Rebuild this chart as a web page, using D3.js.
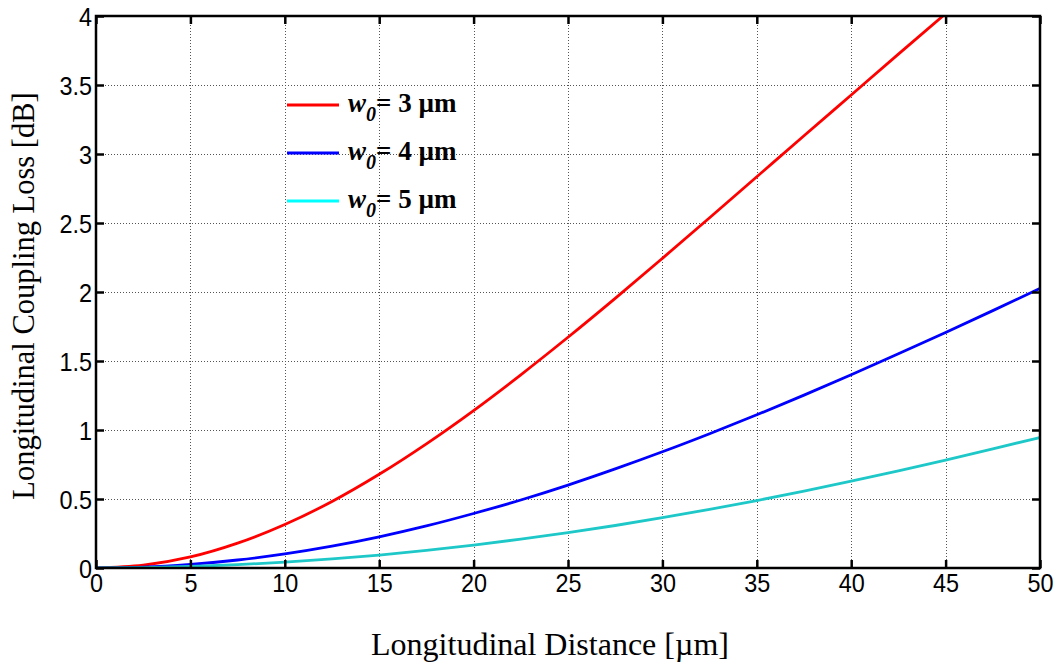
<!DOCTYPE html>
<html>
<head>
<meta charset="utf-8">
<script src="https://cdn.jsdelivr.net/npm/d3@7"></script>
<style>
  html, body { margin: 0; padding: 0; background: #fff; }
  svg { display: block; }
</style>
</head>
<body>
<div id="chart"></div>
<script>
const distance = [0, 2.5, 5, 7.5, 10, 12.5, 15, 17.5, 20, 22.5, 25, 27.5, 30, 32.5, 35, 37.5, 40, 42.5, 45, 47.5, 50];

// loss values [dB]
const lossW3 = [0, 0.02, 0.08, 0.18, 0.315, 0.482, 0.679, 0.9, 1.141, 1.4, 1.672, 1.954, 2.244, 2.538, 2.835, 3.132, 3.428, 3.724, 4.017];
const lossW4 = [0, 0.006, 0.026, 0.058, 0.102, 0.158, 0.226, 0.305, 0.395, 0.493, 0.601, 0.718, 0.842, 0.973, 1.11, 1.253, 1.4, 1.552, 1.707, 1.865, 2.026];
const lossW5 = [0, 0.003, 0.011, 0.024, 0.042, 0.066, 0.094, 0.128, 0.166, 0.209, 0.256, 0.308, 0.365, 0.425, 0.489, 0.557, 0.629, 0.704, 0.782, 0.863, 0.946];

const seriesNames = ["3", "4", "5"];
const lineColors = ["#ff0000", "#0000ff", "#1ec8c8"];
const legendColors = ["#ff0000", "#0000ff", "#00ffff"];

const xTicks = d3.range(0, 51, 5);
const yTicks = d3.range(0, 4.01, 0.5);

const width = 1057;
const height = 665;
const margin = { left: 96, top: 16, right: 17, bottom: 97 };
const plotW = width - margin.left - margin.right;
const plotH = height - margin.top - margin.bottom;

const svg = d3.select("#chart").append("svg").attr("width", width).attr("height", height);

const x = d3.scaleLinear().domain([0, 50]).range([margin.left, margin.left + plotW]);
const y = d3.scaleLinear().domain([0, 4]).range([margin.top + plotH, margin.top]);

svg.append("defs").append("clipPath").attr("id", "clip")
  .append("rect").attr("x", margin.left).attr("y", margin.top).attr("width", plotW).attr("height", plotH);

// grid
const grid = svg.append("g").attr("stroke", "#555").attr("stroke-width", 1).attr("stroke-dasharray", "1,2");
grid.selectAll("line.gx").data(xTicks.slice(1, -1)).join("line")
  .attr("x1", (d) => Math.round(x(d)) + 0.5).attr("x2", (d) => Math.round(x(d)) + 0.5)
  .attr("y1", margin.top).attr("y2", margin.top + plotH);
grid.selectAll("line.gy").data(yTicks.slice(1, -1)).join("line")
  .attr("y1", (d) => Math.round(y(d)) + 0.5).attr("y2", (d) => Math.round(y(d)) + 0.5)
  .attr("x1", margin.left).attr("x2", margin.left + plotW);

// curves
const series = [lossW3, lossW4, lossW5];
const line = d3.line().x((d) => x(d[0])).y((d) => y(d[1])).curve(d3.curveMonotoneX);
svg.append("g").attr("clip-path", "url(#clip)")
  .selectAll("path").data(series).join("path")
  .attr("fill", "none")
  .attr("stroke", (d, i) => lineColors[i])
  .attr("stroke-width", 2.8)
  .attr("d", (vals) => line(vals.map((v, i) => [distance[i], v])));

// axes with inward ticks
const tickFont = "'Liberation Sans', Arial, sans-serif";
const xAxis = svg.append("g").attr("transform", `translate(0,${margin.top + plotH})`)
  .call(d3.axisBottom(x).tickValues(xTicks).tickSize(-8).tickPadding(3).tickFormat(d3.format("d")));
const yAxis = svg.append("g").attr("transform", `translate(${margin.left},0)`)
  .call(d3.axisLeft(y).tickValues(yTicks).tickSize(-8).tickPadding(4).tickFormat((d) => String(d)));
const xAxisTop = svg.append("g").attr("transform", `translate(0,${margin.top})`)
  .call(d3.axisTop(x).tickValues(xTicks).tickSize(-8).tickFormat(""));
const yAxisRight = svg.append("g").attr("transform", `translate(${margin.left + plotW},0)`)
  .call(d3.axisRight(y).tickValues(yTicks).tickSize(-8).tickFormat(""));

[xAxis, yAxis, xAxisTop, yAxisRight].forEach((g) => {
  g.select(".domain").remove();
  g.selectAll(".tick line").attr("stroke", "#000").attr("stroke-width", 2.5);
  g.selectAll(".tick text").attr("fill", "#000").style("font-family", tickFont).style("font-size", "26px");
});
// the reference digits are tall and narrow
xAxis.selectAll(".tick text").attr("dy", "0.8em")
  .attr("transform", function () { return `translate(0,${this.getAttribute("y")}) scale(0.9,1) translate(0,${-this.getAttribute("y")})`; });
yAxis.selectAll(".tick text").attr("dy", "0.36em")
  .attr("transform", function () { return `translate(${this.getAttribute("x")},0) scale(0.9,1) translate(${-this.getAttribute("x")},0)`; });

svg.append("rect")
  .attr("x", margin.left).attr("y", margin.top).attr("width", plotW).attr("height", plotH)
  .attr("fill", "none").attr("stroke", "#000").attr("stroke-width", 2.5);

// axis titles
const titleFont = "'Liberation Serif', 'Times New Roman', serif";
svg.append("text")
  .attr("x", margin.left + plotW / 2 - 18).attr("y", 655)
  .attr("text-anchor", "middle")
  .style("font-family", titleFont).style("font-size", "32px")
  .text("Longitudinal Distance [µm]");
svg.append("text")
  .attr("transform", "translate(34,296) rotate(-90)")
  .attr("text-anchor", "middle")
  .style("font-family", titleFont).style("font-size", "30.5px")
  .text("Longitudinal Coupling Loss [dB]");

// legend
const legend = svg.append("g").attr("transform", "translate(287,105)");
seriesNames.forEach((name, i) => {
  const row = legend.append("g").attr("transform", `translate(0,${i * 48})`);
  row.append("line").attr("x1", 0).attr("x2", 52).attr("y1", 0).attr("y2", 0)
    .attr("stroke", legendColors[i]).attr("stroke-width", 3);
  const t = row.append("text").attr("x", 61).attr("y", 7)
    .style("font-family", titleFont).style("font-size", "27px").style("font-weight", "bold");
  t.append("tspan").style("font-style", "italic").text("w");
  t.append("tspan").style("font-style", "italic").style("font-size", "20px").attr("dy", 9).text("0");
  t.append("tspan").attr("dy", -9).text(`= ${name} µm`);
});
</script>
</body>
</html>
